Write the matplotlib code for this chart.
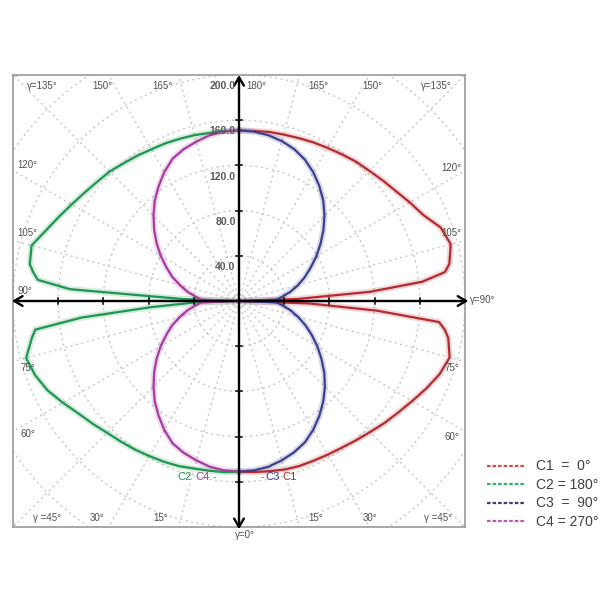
import numpy as np
import matplotlib.pyplot as plt
from matplotlib.lines import Line2D

# gamma angles (deg), 0 = straight down, 180 = straight up
GAMMA = [0, 5, 10, 15, 20, 25, 30, 35, 40, 45, 50, 55, 60, 65, 70, 75, 80,
         82, 84, 86, 88, 90, 92, 94, 96, 98,
         100, 105, 110, 115, 120, 125, 130, 135, 140, 145, 150, 155, 160, 165, 170, 175, 180]

# luminous intensity per C-plane (cd/klm)
C1 = [151, 152, 153, 154.5, 155.5, 156, 157, 158.5, 161, 164, 168, 172, 177, 183, 189, 193, 188,
      184, 178, 122, 62, 0, 52, 116, 163, 184,
      189, 194, 190, 180, 174.5, 169.5, 166, 163, 161, 158.5, 156.5, 155, 153.5, 152.5, 152, 151, 151]
C2 = [151, 152, 152.5, 153.5, 155.5, 157, 158.5, 160.5, 162.5, 165, 169, 173.5, 180, 187, 192, 195, 186,
      182, 140, 78, 40, 0, 50, 150, 179, 184,
      188, 190, 182, 176, 171, 167, 164, 162, 159, 157, 155, 154, 152.8, 152, 151, 151, 151]
C3 = [151, 150.5, 149, 146, 142.5, 138, 131.5, 124, 116, 107.5, 98.5, 89, 80, 71, 62.5, 54, 46,
      42, 39, 36, 33, 0, 33, 36, 39, 42,
      46, 54, 62, 70, 79, 88, 97.5, 107, 116, 124, 131.5, 138, 143, 146.5, 149, 150.5, 151]
C4 = [151, 150.5, 149, 146, 143, 139, 132, 124, 116, 107, 98, 89, 80, 71, 63, 54, 46,
      42, 39, 36, 33, 0, 33, 36, 39, 42,
      46, 54, 63, 71, 80, 89, 98, 107, 116, 124, 132, 139, 143, 146, 149, 150.5, 151]

LEGEND_LABELS = ["C1  =  0°", "C2 = 180°", "C3  =  90°", "C4 = 270°"]
AXIS_TICKS = [40, 80, 120, 160]
AXIS_LABELS = ["40.0", "80.0", "120.0", "160.0", "200.0"]

# angle labels around the frame: (text, x, y) in intensity units
ANGLE_LABELS = [
    ("γ=135°", -174, 190), ("150°", -121, 190), ("165°", -68, 190),
    ("180°", 15, 190), ("165°", 70, 190), ("150°", 118, 190), ("γ=135°", 175, 190),
    ("120°", -187, 120), ("105°", -187, 60), ("90°", -189, 9),
    ("75°", -187, -59), ("60°", -187, -118), ("γ =45°", -170, -192),
    ("120°", 188, 118), ("105°", 188, 60), ("75°", 188, -59), ("60°", 188, -120),
    ("30°", -126, -192), ("15°", -69, -192), ("15°", 68, -192), ("30°", 116, -192),
    ("γ =45°", 176, -192),
]

COLORS = ["#b52a30", "#1e9650", "#3b3f8f", "#a63c9e"]
LEG_COLORS = ["#d04a4a", "#2fb36a", "#3c3c7c", "#c052b8"]
SIDES = [1, -1, 1, -1]

plt.rcParams["font.family"] = ["Liberation Sans", "DejaVu Sans"]

fig = plt.figure(figsize=(6, 6), dpi=100)
ax = fig.add_axes([13 / 600, 73 / 600, 452 / 600, 452 / 600])
ax.set_xlim(-200, 200)
ax.set_ylim(-200, 200)
ax.set_aspect("equal")
ax.set_xticks([])
ax.set_yticks([])
for sp in ax.spines.values():
    sp.set_color("#9a9a9a")
    sp.set_linewidth(1.2)

# dotted polar grid
grid = dict(color="#c8c8c8", lw=1.0, ls=(0, (1.5, 2.5)), zorder=1)
t = np.linspace(0, 2 * np.pi, 400)
for rr in range(40, 320, 40):
    ax.plot(rr * np.cos(t), rr * np.sin(t), **grid)
for a in range(0, 360, 15):
    ax.plot([0, 320 * np.cos(np.radians(a))], [0, 320 * np.sin(np.radians(a))], **grid)

# curves
g = np.radians(GAMMA)
for r, side, col in zip([C1, C2, C3, C4], SIDES, COLORS):
    r = np.asarray(r, float)
    x = side * r * np.sin(g)
    y = -r * np.cos(g)
    ax.plot(x, y, color=col, lw=4.5, alpha=0.18, zorder=3, solid_capstyle="round")
    ax.plot(x, y, color=col, lw=1.6, zorder=4, solid_joinstyle="round")

# axes with arrows
arrow = dict(arrowstyle="<->,head_length=0.6,head_width=0.35", color="black", lw=1.7,
             shrinkA=0, shrinkB=0)
ax.annotate("", xy=(203, 0), xytext=(-201, 0), arrowprops=arrow, zorder=5, annotation_clip=False)
ax.annotate("", xy=(0, 200), xytext=(0, -202), arrowprops=arrow, zorder=5, annotation_clip=False)
for v in AXIS_TICKS:
    for s in (-1, 1):
        ax.plot([s * v, s * v], [-3, 3], color="black", lw=1.1, zorder=5)
        ax.plot([-3, 3], [s * v, s * v], color="black", lw=1.1, zorder=5)

for v, lab in zip(AXIS_TICKS + [200], AXIS_LABELS):
    ax.text(-3, v - 10, lab, ha="right", va="center", fontsize=7.5, color="#5a5a5a",
            fontweight="bold", zorder=6)

for lab, x, y in ANGLE_LABELS:
    ax.text(x, y, lab, ha="center", va="center", fontsize=7, color="#505050", zorder=6)
ax.text(216, 1, "γ=90°", ha="center", va="center", fontsize=7, color="#505050", clip_on=False)
ax.text(5, -207, "γ=0°", ha="center", va="center", fontsize=7, color="#505050", clip_on=False)

# curve name tags near the bottom
tag_y = -156
ax.text(-48, tag_y, "C2", color=COLORS[1], fontsize=8, ha="center", va="center", zorder=6)
ax.text(-32, tag_y, "C4", color=COLORS[3], fontsize=8, ha="center", va="center", zorder=6)
ax.text(-22, tag_y, "-", color="#707070", fontsize=8, ha="center", va="center", zorder=6)
ax.text(21, tag_y, "-", color="#707070", fontsize=8, ha="center", va="center", zorder=6)
ax.text(30, tag_y, "C3", color=COLORS[2], fontsize=8, ha="center", va="center", zorder=6)
ax.text(45, tag_y, "C1", color=COLORS[0], fontsize=8, ha="center", va="center", zorder=6)

handles = [Line2D([], [], color=c, lw=1.6, ls=(0, (1.6, 0.9))) for c in LEG_COLORS]
fig.legend(handles, LEGEND_LABELS, loc="upper left", bbox_to_anchor=(0.79, 0.255),
           frameon=False, fontsize=10, handlelength=2.8, labelspacing=0.32,
           handletextpad=0.8, labelcolor="#404040")

fig.savefig("out.png", dpi=100, facecolor="white")
